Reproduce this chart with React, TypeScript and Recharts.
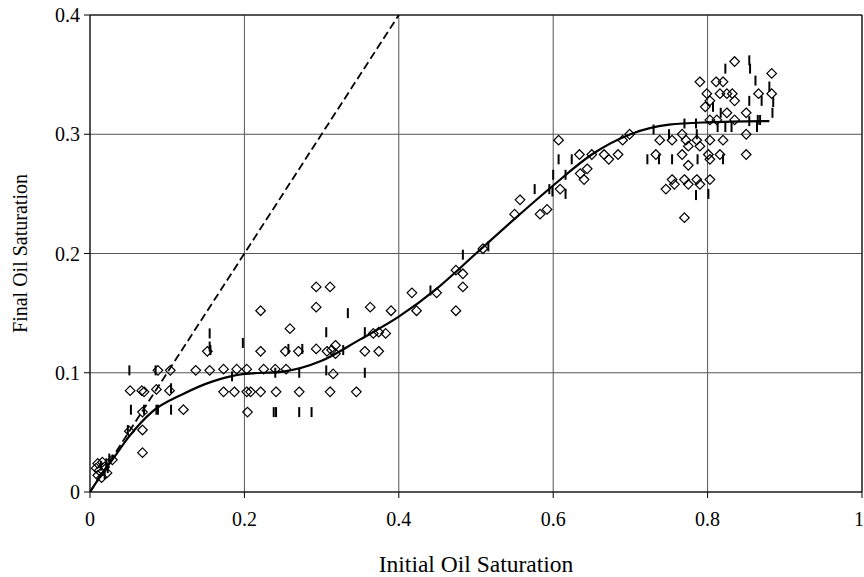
import React from 'react';
import { ComposedChart, Scatter, Line, XAxis, YAxis, CartesianGrid, ReferenceLine } from 'recharts';

const FONT = '"Liberation Serif", "Times New Roman", Times, serif';

const xTicks = [0, 0.2, 0.4, 0.6, 0.8, 1];
const yTicks = [0, 0.1, 0.2, 0.3, 0.4];

// open diamond markers
const diamondPoints: [number, number][] = [
  [0.010, 0.024], [0.016, 0.025], [0.012, 0.018], [0.019, 0.021], [0.029, 0.027], [0.010, 0.014],
  [0.015, 0.012], [0.008, 0.020], [0.022, 0.016],
  [0.051, 0.051], [0.068, 0.052], [0.068, 0.033], [0.068, 0.067], [0.121, 0.069],
  [0.052, 0.085], [0.067, 0.085], [0.070, 0.084], [0.086, 0.086], [0.103, 0.085],
  [0.088, 0.102], [0.104, 0.102], [0.137, 0.102], [0.155, 0.102], [0.152, 0.118],
  [0.221, 0.152], [0.221, 0.118], [0.293, 0.172], [0.311, 0.172], [0.293, 0.155], [0.363, 0.155],
  [0.390, 0.152], [0.259, 0.137], [0.367, 0.133], [0.374, 0.134], [0.383, 0.133],
  [0.253, 0.118], [0.270, 0.118], [0.293, 0.120], [0.307, 0.118], [0.313, 0.119], [0.318, 0.123],
  [0.318, 0.116], [0.356, 0.118], [0.374, 0.118],
  [0.173, 0.103], [0.190, 0.103], [0.203, 0.103], [0.225, 0.103], [0.240, 0.103], [0.254, 0.103],
  [0.315, 0.099],
  [0.173, 0.084], [0.187, 0.084], [0.203, 0.084], [0.208, 0.084], [0.221, 0.084], [0.241, 0.084],
  [0.271, 0.084], [0.311, 0.084], [0.345, 0.084], [0.204, 0.067],
  [0.417, 0.167], [0.423, 0.152], [0.449, 0.167], [0.474, 0.152], [0.474, 0.186], [0.483, 0.183],
  [0.483, 0.172], [0.509, 0.204], [0.550, 0.233], [0.557, 0.245], [0.583, 0.233], [0.592, 0.237],
  [0.607, 0.295], [0.609, 0.254], [0.634, 0.283], [0.635, 0.267], [0.640, 0.262], [0.644, 0.271],
  [0.650, 0.283], [0.666, 0.283], [0.672, 0.279], [0.684, 0.283], [0.690, 0.295], [0.699, 0.300],
  [0.733, 0.283], [0.738, 0.295], [0.754, 0.295], [0.767, 0.300], [0.772, 0.295], [0.775, 0.290],
  [0.767, 0.283], [0.775, 0.274], [0.754, 0.262], [0.746, 0.254], [0.757, 0.258], [0.770, 0.262],
  [0.775, 0.258], [0.770, 0.230], [0.786, 0.295], [0.790, 0.290], [0.786, 0.262], [0.790, 0.258],
  [0.803, 0.295], [0.801, 0.283], [0.803, 0.279], [0.803, 0.262],
  [0.835, 0.361], [0.883, 0.351], [0.811, 0.344], [0.820, 0.344], [0.790, 0.344], [0.799, 0.334],
  [0.816, 0.334], [0.825, 0.334], [0.832, 0.334], [0.835, 0.328], [0.803, 0.328], [0.797, 0.323],
  [0.866, 0.334], [0.883, 0.334], [0.825, 0.318], [0.850, 0.318], [0.803, 0.312], [0.812, 0.312],
  [0.835, 0.312], [0.850, 0.300], [0.820, 0.295], [0.816, 0.283], [0.850, 0.283],
];

// vertical dash markers
const dashPoints: [number, number][] = [
  [0.021, 0.024], [0.023, 0.020], [0.019, 0.015], [0.025, 0.028], [0.014, 0.022],
  [0.049, 0.052], [0.070, 0.069], [0.053, 0.069], [0.086, 0.069], [0.088, 0.069], [0.105, 0.069],
  [0.105, 0.087], [0.051, 0.102], [0.085, 0.102], [0.155, 0.122], [0.155, 0.133], [0.156, 0.119],
  [0.198, 0.125], [0.334, 0.150], [0.306, 0.134], [0.356, 0.134], [0.257, 0.120], [0.275, 0.120],
  [0.328, 0.119], [0.184, 0.097], [0.240, 0.100], [0.271, 0.100], [0.306, 0.102], [0.356, 0.100],
  [0.238, 0.067], [0.241, 0.067], [0.271, 0.067], [0.287, 0.067],
  [0.441, 0.169], [0.483, 0.199], [0.516, 0.206], [0.576, 0.254], [0.595, 0.254], [0.599, 0.252],
  [0.600, 0.266], [0.607, 0.279], [0.616, 0.250], [0.616, 0.266], [0.624, 0.279],
  [0.722, 0.279], [0.737, 0.279], [0.730, 0.304], [0.750, 0.300], [0.754, 0.279], [0.785, 0.249],
  [0.801, 0.250], [0.787, 0.279], [0.785, 0.309], [0.770, 0.309], [0.786, 0.300],
  [0.854, 0.362], [0.855, 0.355], [0.823, 0.355], [0.862, 0.345], [0.880, 0.340], [0.807, 0.323],
  [0.870, 0.328], [0.885, 0.327], [0.854, 0.328], [0.884, 0.318], [0.817, 0.318], [0.813, 0.306],
  [0.823, 0.306], [0.831, 0.306], [0.854, 0.311], [0.865, 0.312], [0.868, 0.312], [0.864, 0.306],
  [0.820, 0.279],
];

// fitted curve
const fitX = [0, 0.01, 0.03, 0.05, 0.08, 0.12, 0.16, 0.2, 0.25, 0.3, 0.35, 0.4, 0.45, 0.5, 0.55, 0.6, 0.65, 0.7, 0.75, 0.8, 0.88];
const fitY = [0, 0.01, 0.028, 0.046, 0.067, 0.082, 0.093, 0.099, 0.101, 0.110, 0.128, 0.147, 0.171, 0.200, 0.229, 0.257, 0.283, 0.300, 0.308, 0.310, 0.311];

// 1:1 line
const unitX = [0, 0.4];
const unitY = [0, 0.4];

const toXY = (pts: [number, number][]) => pts.map(([x, y]) => ({ x, y }));

const Diamond = (props: any) => {
  const { cx, cy } = props;
  const r = 4.8;
  return (
    <path
      d={`M${cx},${cy - r}L${cx + r},${cy}L${cx},${cy + r}L${cx - r},${cy}Z`}
      fill="none"
      stroke="#000"
      strokeWidth={1.2}
    />
  );
};

const Dash = (props: any) => {
  const { cx, cy } = props;
  return <line x1={cx} x2={cx} y1={cy - 5} y2={cy + 5} stroke="#000" strokeWidth={2} />;
};

const tickStyle = { fill: '#000', fontSize: 20, fontFamily: FONT };

const App: React.FC = () => {
  const diamonds = toXY(diamondPoints);
  const dashes = toXY(dashPoints);
  const fit = fitX.map((x, i) => ({ x, y: fitY[i] }));
  const unit = unitX.map((x, i) => ({ x, y: unitY[i] }));

  return (
    <div style={{ position: 'absolute', left: 0, top: 0, width: 864, height: 577, background: '#fff' }}>
      <ComposedChart width={864} height={577} margin={{ top: 15, right: 2, bottom: 0, left: 0 }}>
        <CartesianGrid stroke="#555" />
        <XAxis
          type="number"
          dataKey="x"
          domain={[0, 1]}
          ticks={xTicks}
          allowDataOverflow
          height={85}
          tickSize={6}
          tickMargin={14}
          axisLine={{ stroke: '#000' }}
          tickLine={{ stroke: '#000' }}
          tick={tickStyle}
          label={{ value: 'Initial Oil Saturation', position: 'insideBottom', offset: 5, fill: '#000', fontSize: 23.5, fontFamily: FONT }}
        />
        <YAxis
          type="number"
          dataKey="y"
          domain={[0, 0.4]}
          ticks={yTicks}
          allowDataOverflow
          width={90}
          tickSize={6}
          tickMargin={4}
          axisLine={{ stroke: '#000' }}
          tickLine={{ stroke: '#000' }}
          tick={tickStyle}
          label={{
            content: () => (
              <text
                x={27}
                y={253.5}
                transform="rotate(-90 27 253.5)"
                textAnchor="middle"
                fill="#000"
                fontSize={20}
                fontFamily={FONT}
              >
                Final Oil Saturation
              </text>
            ),
          }}
        />
        <ReferenceLine y={0.4} stroke="#000" />
        <ReferenceLine x={1} stroke="#000" />
        <Scatter data={diamonds} shape={<Diamond />} isAnimationActive={false} />
        <Scatter data={dashes} shape={<Dash />} isAnimationActive={false} />
        <Line data={unit} dataKey="y" type="linear" stroke="#000" strokeWidth={1.8} strokeDasharray="8 4" dot={false} activeDot={false} isAnimationActive={false} />
        <Line data={fit} dataKey="y" type="monotone" stroke="#000" strokeWidth={2.2} dot={false} activeDot={false} isAnimationActive={false} />
      </ComposedChart>
    </div>
  );
};

export default App;
